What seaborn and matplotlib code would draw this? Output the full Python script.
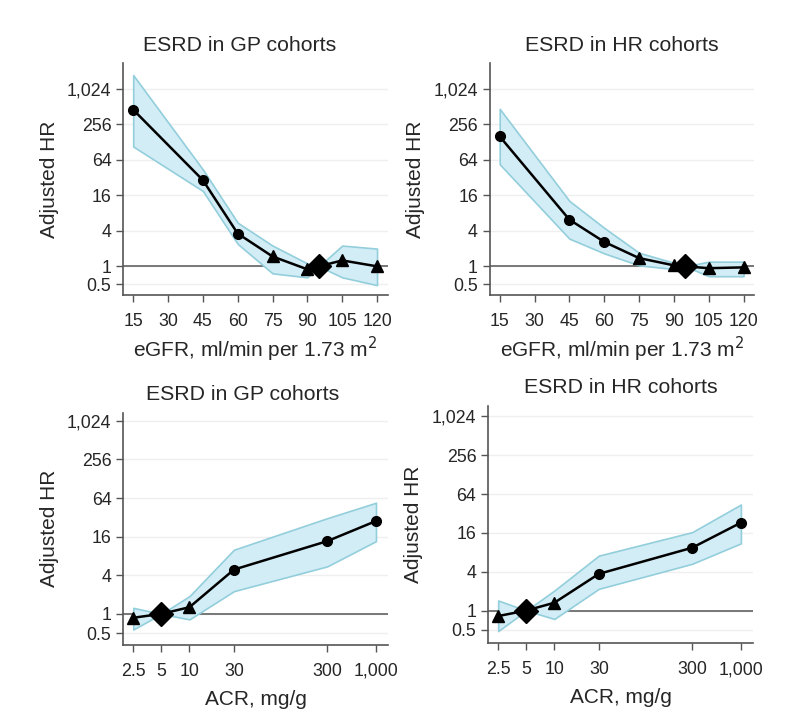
import numpy as np
import pandas as pd
import matplotlib
matplotlib.use("Agg")
import matplotlib.pyplot as plt
import seaborn as sns

# eGFR panels
egfr_x = [15, 45, 60, 75, 90, 95, 105, 120]
egfr_marks = ["o", "o", "o", "^", "^", "D", "^", "^"]
gp_egfr_hr = [455, 29, 3.6, 1.47, 0.89, 1, 1.26, 1.0]
gp_egfr_lo = [108, 19, 2.4, 0.76, 0.65, 1, 0.65, 0.48]
gp_egfr_hi = [1760, 44, 5.5, 2.25, 1.12, 1, 2.25, 2.0]
hr_egfr_hr = [160, 6.2, 2.6, 1.38, 1.04, 1, 0.93, 0.96]
hr_egfr_lo = [54, 2.95, 1.66, 1.04, 0.9, 1, 0.68, 0.68]
hr_egfr_hi = [470, 12.9, 4.5, 1.7, 1.15, 1, 1.2, 1.2]

# ACR panels
acr_x = [2.5, 5, 10, 30, 300, 1000]
acr_marks = ["^", "D", "^", "o", "o", "o"]
gp_acr_hr = [0.87, 1, 1.27, 4.9, 13.6, 28]
gp_acr_lo = [0.57, 1, 0.82, 2.26, 5.5, 13.6]
gp_acr_hi = [1.24, 1, 1.89, 10, 31, 54]
hr_acr_hr = [0.82, 1, 1.32, 3.7, 9.4, 23]
hr_acr_lo = [0.48, 1, 0.74, 2.17, 5.3, 11]
hr_acr_hi = [1.43, 1, 2.04, 7.1, 16.4, 44]

y_ticks = [0.5, 1, 4, 16, 64, 256, 1024]
y_labels = ["0.5", "1", "4", "16", "64", "256", "1,024"]
egfr_ticks = [15, 30, 45, 60, 75, 90, 105, 120]
acr_ticks = [2.5, 5, 10, 30, 300, 1000]
acr_labels = ["2.5", "5", "10", "30", "300", "1,000"]

sns.set_style("white")
plt.rcParams["font.family"] = ["Liberation Sans", "DejaVu Sans"]

band_fill = "#d3edf6"
band_edge = "#92cedb"
sizes = {"o": 7, "^": 8, "D": 12}


def draw(ax, x, hr, lo, hi, marks, title, title_x):
    for t in y_ticks:
        ax.axhline(t, color="#efefef", lw=1, zorder=0)
    ax.axhline(1, color="#777777", lw=1.4, zorder=1)
    ax.fill_between(x, lo, hi, facecolor=band_fill, edgecolor=band_edge,
                    lw=1.2, zorder=2)
    df = pd.DataFrame({"x": x, "hr": hr})
    sns.lineplot(data=df, x="x", y="hr", ax=ax, color="black", lw=1.8,
                 zorder=3, legend=False)
    for xi, yi, m in zip(x, hr, marks):
        ax.plot(xi, yi, marker=m, color="black", ms=sizes[m], zorder=4,
                ls="none")
    ax.set_yscale("log", base=2)
    ax.set_yticks(y_ticks)
    ax.set_yticklabels(y_labels)
    ax.minorticks_off()
    ax.set_ylabel("Adjusted HR", fontsize=15, labelpad=6)
    ax.set_title(title, fontsize=15.3, pad=9, x=title_x)
    for s in ["top", "right"]:
        ax.spines[s].set_visible(False)
    for s in ["left", "bottom"]:
        ax.spines[s].set_color("#555555")
        ax.spines[s].set_linewidth(1.2)
    ax.tick_params(axis="both", direction="out", length=5, width=1,
                   color="#555555", labelsize=12.8, left=True, bottom=True)
    ax.tick_params(axis="x", pad=8)


fig = plt.figure(figsize=(7.95, 7.18), dpi=100)
ax1 = fig.add_axes([0.155, 0.589, 0.333, 0.323])
ax2 = fig.add_axes([0.616, 0.589, 0.333, 0.323])
ax3 = fig.add_axes([0.155, 0.102, 0.333, 0.323])
ax4 = fig.add_axes([0.614, 0.104, 0.333, 0.331])

draw(ax1, egfr_x, gp_egfr_hr, gp_egfr_lo, gp_egfr_hi, egfr_marks, "ESRD in GP cohorts", 0.44)
draw(ax2, egfr_x, hr_egfr_hr, hr_egfr_lo, hr_egfr_hi, egfr_marks, "ESRD in HR cohorts", 0.5)
draw(ax3, acr_x, gp_acr_hr, gp_acr_lo, gp_acr_hi, acr_marks, "ESRD in GP cohorts", 0.45)
draw(ax4, acr_x, hr_acr_hr, hr_acr_lo, hr_acr_hi, acr_marks, "ESRD in HR cohorts", 0.5)

for ax in [ax1, ax2]:
    ax.set_xlim(10.7, 124.7)
    ax.set_ylim(0.325, 2800)
    ax.set_xticks(egfr_ticks)
    ax.set_xticklabels([str(t) for t in egfr_ticks])
    ax.set_xlabel("eGFR, ml/min per 1.73 m$^2$", fontsize=15, labelpad=3)

for ax in [ax3, ax4]:
    ax.set_xscale("log")
    ax.set_xlim(1.95, 1344)
    ax.set_xticks(acr_ticks)
    ax.set_xticklabels(acr_labels)
    ax.minorticks_off()
    ax.set_xlabel("ACR, mg/g", fontsize=15, labelpad=7)
ax3.set_ylim(0.33, 1360)
ax4.set_ylim(0.31, 1500)

fig.savefig("out.png", dpi=100)
